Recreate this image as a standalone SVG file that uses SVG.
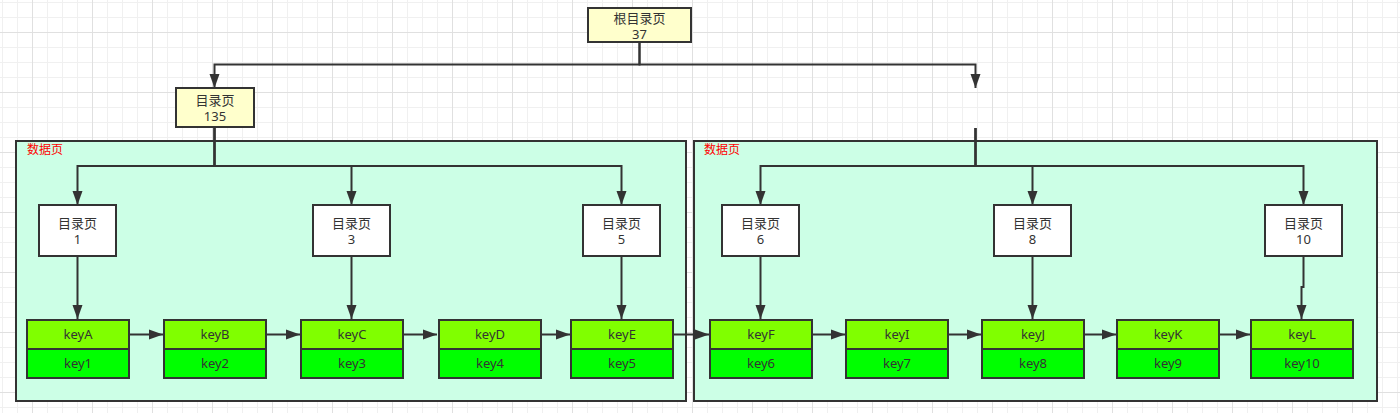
<svg xmlns="http://www.w3.org/2000/svg" width="1400" height="413" viewBox="0 0 1400 413">
<defs>
<pattern id="grid" patternUnits="userSpaceOnUse" x="32" y="32" width="60" height="60">
<path d="M15.5,0V60M30.5,0V60M45.5,0V60M0,15.5H60M0,30.5H60M0,45.5H60" stroke="#f0f0f0" stroke-width="1" fill="none"/>
<path d="M0.5,0V60M0,0.5H60" stroke="#e0e0e0" stroke-width="1" fill="none"/>
</pattern>
<marker id="arr" markerUnits="userSpaceOnUse" markerWidth="15" markerHeight="11" refX="14" refY="5.5" orient="auto" viewBox="0 0 15 11">
<path d="M0,0.5L14,5.5L0,10.5z" fill="#333"/>
</marker>
</defs>
<style>
.t{font-family:"Noto Sans","Noto Sans CJK SC",sans-serif;font-size:13px;fill:#333;text-anchor:middle}
.lbl{font-family:"Noto Sans CJK SC","Noto Sans",sans-serif;font-size:12px;fill:#ff0000}
.yel{fill:#ffffcc;stroke:#333;stroke-width:2}
.wh{fill:#ffffff;stroke:#333;stroke-width:2}
.cont{fill:#ccffe6;stroke:#333;stroke-width:2}
.k1{fill:#80ff00;stroke:#333;stroke-width:2}
.k2{fill:#00ff00;stroke:#333;stroke-width:2}
.a{fill:none;stroke:#333;stroke-width:2;marker-end:url(#arr)}
</style>
<rect width="1400" height="413" fill="#ffffff"/>
<rect width="1400" height="413" fill="url(#grid)"/>

<g id="container-left"><rect class="cont" x="16" y="141" width="670" height="260"/><text class="lbl" x="27" y="154">数据页</text></g>
<g id="container-right"><rect class="cont" x="694" y="141" width="683" height="260"/><text class="lbl" x="704" y="154">数据页</text></g>

<g id="connectors">
<path class="a" d="M639.5,42V64.5H214.5V88"/>
<path class="a" d="M639.5,42V64.5H975.5V88"/>
<path class="a" d="M975.5,128V166H760.5V205"/>
<path class="a" d="M975.5,128V166H1032.5V205"/>
<path class="a" d="M975.5,128V166H1303.5V205"/>
<path class="a" d="M214.5,127V166H77.5V205"/>
<path class="a" d="M214.5,127V166H351.5V205"/>
<path class="a" d="M214.5,127V166H621.5V205"/>
<path class="a" d="M77.5,256V319"/>
<path class="a" d="M351.5,256V319"/>
<path class="a" d="M621.5,256V319"/>
<path class="a" d="M760.5,256V319"/>
<path class="a" d="M1032.5,256V319"/>
<path class="a" d="M1303.5,256V287H1301.5V319"/>
<path class="a" d="M129,334.5H163"/>
<path class="a" d="M266,334.5H300"/>
<path class="a" d="M403,334.5H437"/>
<path class="a" d="M541,334.5H570"/>
<path class="a" d="M673,334.5H709"/>
<path class="a" d="M812,334.5H845"/>
<path class="a" d="M948,334.5H981"/>
<path class="a" d="M1084,334.5H1116"/>
<path class="a" d="M1219,334.5H1250"/>
</g>

<g id="root"><rect class="yel" x="588" y="8" width="103" height="34"/><text class="t" x="639.5" y="22.5">根目录页</text><text class="t" x="639.5" y="39">37</text></g>
<g id="dir135"><rect class="yel" x="176" y="88" width="78" height="39"/><text class="t" x="215" y="105">目录页</text><text class="t" x="215" y="121">135</text></g>

<g id="dir1"><rect class="wh" x="39" y="205" width="77" height="51"/><text class="t" x="77.5" y="228">目录页</text><text class="t" x="77.5" y="244">1</text></g>
<g id="dir3"><rect class="wh" x="313" y="205" width="77" height="51"/><text class="t" x="351.5" y="228">目录页</text><text class="t" x="351.5" y="244">3</text></g>
<g id="dir5"><rect class="wh" x="583" y="205" width="77" height="51"/><text class="t" x="621.5" y="228">目录页</text><text class="t" x="621.5" y="244">5</text></g>
<g id="dir6"><rect class="wh" x="722" y="205" width="77" height="51"/><text class="t" x="760.5" y="228">目录页</text><text class="t" x="760.5" y="244">6</text></g>
<g id="dir8"><rect class="wh" x="994" y="205" width="77" height="51"/><text class="t" x="1032.5" y="228">目录页</text><text class="t" x="1032.5" y="244">8</text></g>
<g id="dir10"><rect class="wh" x="1265" y="205" width="77" height="51"/><text class="t" x="1303.5" y="228">目录页</text><text class="t" x="1303.5" y="244">10</text></g>

<g id="rowA"><rect class="k1" x="27" y="320" width="102" height="29"/><rect class="k2" x="27" y="349" width="102" height="29"/><text class="t" x="78" y="339">keyA</text><text class="t" x="78" y="368">key1</text></g>
<g id="rowB"><rect class="k1" x="164" y="320" width="102" height="29"/><rect class="k2" x="164" y="349" width="102" height="29"/><text class="t" x="215" y="339">keyB</text><text class="t" x="215" y="368">key2</text></g>
<g id="rowC"><rect class="k1" x="301" y="320" width="102" height="29"/><rect class="k2" x="301" y="349" width="102" height="29"/><text class="t" x="352" y="339">keyC</text><text class="t" x="352" y="368">key3</text></g>
<g id="rowD"><rect class="k1" x="439" y="320" width="102" height="29"/><rect class="k2" x="439" y="349" width="102" height="29"/><text class="t" x="490" y="339">keyD</text><text class="t" x="490" y="368">key4</text></g>
<g id="rowE"><rect class="k1" x="571" y="320" width="102" height="29"/><rect class="k2" x="571" y="349" width="102" height="29"/><text class="t" x="622" y="339">keyE</text><text class="t" x="622" y="368">key5</text></g>
<g id="rowF"><rect class="k1" x="710" y="320" width="102" height="29"/><rect class="k2" x="710" y="349" width="102" height="29"/><text class="t" x="761" y="339">keyF</text><text class="t" x="761" y="368">key6</text></g>
<g id="rowI"><rect class="k1" x="846" y="320" width="102" height="29"/><rect class="k2" x="846" y="349" width="102" height="29"/><text class="t" x="897" y="339">keyI</text><text class="t" x="897" y="368">key7</text></g>
<g id="rowJ"><rect class="k1" x="982" y="320" width="102" height="29"/><rect class="k2" x="982" y="349" width="102" height="29"/><text class="t" x="1033" y="339">keyJ</text><text class="t" x="1033" y="368">key8</text></g>
<g id="rowK"><rect class="k1" x="1117" y="320" width="102" height="29"/><rect class="k2" x="1117" y="349" width="102" height="29"/><text class="t" x="1168" y="339">keyK</text><text class="t" x="1168" y="368">key9</text></g>
<g id="rowL"><rect class="k1" x="1251" y="320" width="102" height="29"/><rect class="k2" x="1251" y="349" width="102" height="29"/><text class="t" x="1302" y="339">keyL</text><text class="t" x="1302" y="368">key10</text></g>
</svg>
